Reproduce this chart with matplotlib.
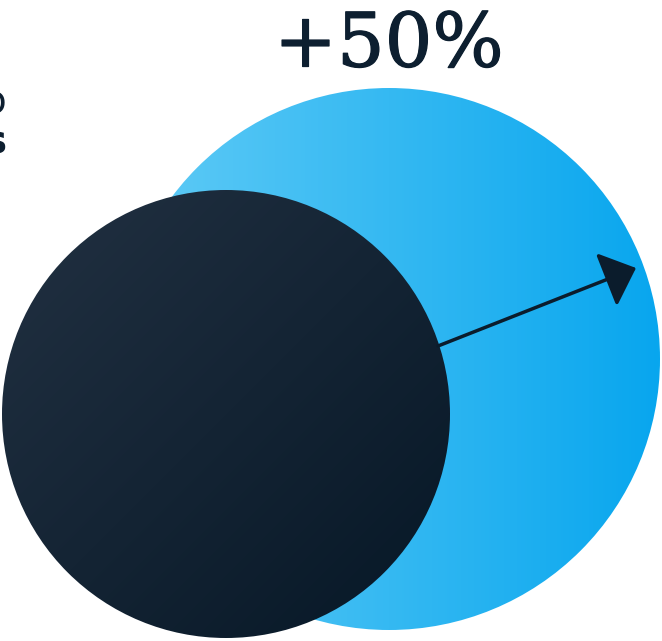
import matplotlib.pyplot as plt
import matplotlib.patheffects as pe
import numpy as np
from matplotlib.patches import Circle
from matplotlib.colors import LinearSegmentedColormap

# circle sizes (pixels) and label
names = ["before", "after"]
radius = [224, 271]
centre_x = [226, 389]
centre_y = [414, 359]
growth_label = "+50%"

fig = plt.figure(figsize=(6.62, 6.41), dpi=100)
ax = fig.add_axes([0, 0, 1, 1])
ax.set_xlim(0, 662)
ax.set_ylim(641, 0)
ax.set_aspect('equal')
ax.axis('off')

yy, xx = np.mgrid[0:641, 0:662]

# big light blue circle, gradient left -> right
blue = LinearSegmentedColormap.from_list('b', ['#62CCF6', '#08A6EE'])
c_big = Circle((centre_x[1], centre_y[1]), radius[1], transform=ax.transData)
g = (xx - (centre_x[1] - radius[1])) / (2 * radius[1])
im = ax.imshow(np.clip(g, 0, 1), cmap=blue, extent=(0, 662, 641, 0), zorder=1)
im.set_clip_path(c_big)

# dark circle, diagonal gradient
dark = LinearSegmentedColormap.from_list('d', ['#223142', '#061726'])
c_small = Circle((centre_x[0], centre_y[0]), radius[0], transform=ax.transData)
g2 = ((xx - (centre_x[0] - radius[0])) + (yy - (centre_y[0] - radius[0]))) / (4 * radius[0])
im2 = ax.imshow(np.clip(g2, 0, 1), cmap=dark, extent=(0, 662, 641, 0), zorder=2)
im2.set_clip_path(c_small)

# arrow
ax.annotate('', xy=(636, 268), xytext=(438, 346), zorder=3,
            arrowprops=dict(arrowstyle='-|>,head_length=2.0,head_width=1.8',
                            color='#0B1C2C', lw=2.5, shrinkA=0, shrinkB=0))

ax.text(389, 46, growth_label, ha='center', va='center', fontsize=54,
        family='DejaVu Serif', color='#0D1F30', zorder=3,
        path_effects=[pe.withStroke(linewidth=0.9, foreground='#0D1F30')])

# clipped text on the left edge
ax.text(7, 102, "o", ha='right', va='center', fontsize=28, color='#0D1F30')
ax.text(7, 143, "s", ha='right', va='center', fontsize=28, fontweight='bold', color='#0D1F30')

fig.savefig('out.png', dpi=100)
